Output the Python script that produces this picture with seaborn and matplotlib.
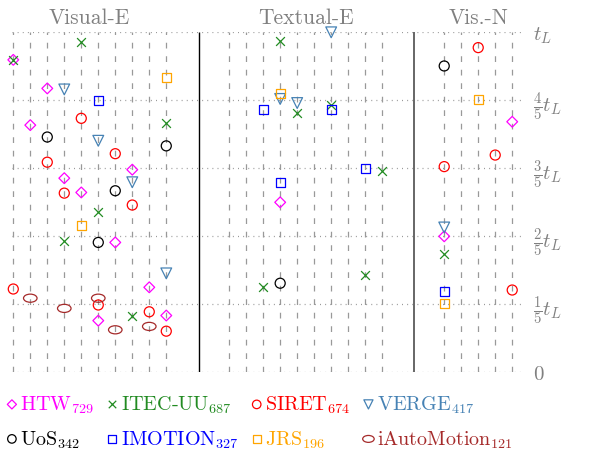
import numpy as np
import seaborn as sns
import matplotlib.pyplot as plt
from matplotlib.path import Path
from matplotlib.transforms import Affine2D
from matplotlib.markers import MarkerStyle

sns.set_style("white")
plt.rcParams['font.family'] = ['cmr10', 'DejaVu Serif']
plt.rcParams['mathtext.fontset'] = 'cm'
plt.rcParams['axes.unicode_minus'] = False

# task index: 0-9 Visual-E, 10-19 Textual-E, 20-24 Vis.-N ; time as fraction of t_L
htw_task = [0, 2, 1, 7, 3, 4, 6, 8, 9, 5, 13, 24, 20]
htw_time = [0.919, 0.835, 0.727, 0.596, 0.571, 0.529, 0.382, 0.25, 0.167, 0.152, 0.5, 0.737, 0.4]

itec_task = [0, 4, 9, 5, 3, 7, 13, 14, 16, 19, 12, 18, 20]
itec_time = [0.919, 0.972, 0.734, 0.471, 0.387, 0.165, 0.975, 0.763, 0.786, 0.591, 0.252, 0.287, 0.347]

siret_task = [4, 6, 2, 3, 7, 0, 5, 8, 9, 22, 23, 20, 24]
siret_time = [0.747, 0.643, 0.618, 0.527, 0.492, 0.245, 0.198, 0.178, 0.121, 0.955, 0.639, 0.605, 0.242]

verge_task = [3, 5, 7, 9, 16, 13, 14, 20]
verge_time = [0.832, 0.681, 0.559, 0.291, 1.0, 0.804, 0.792, 0.426]

uos_task = [2, 9, 6, 5, 13, 20]
uos_time = [0.692, 0.666, 0.534, 0.382, 0.262, 0.901]

imotion_task = [5, 12, 16, 18, 13, 20]
imotion_time = [0.799, 0.772, 0.772, 0.6, 0.559, 0.238]

jrs_task = [9, 4, 13, 22, 20]
jrs_time = [0.868, 0.431, 0.821, 0.801, 0.201]

iauto_task = [1, 5, 3, 8, 6]
iauto_time = [0.218, 0.218, 0.188, 0.135, 0.125]

teams = ["HTW", "ITEC-UU", "SIRET", "VERGE", "UoS", "IMOTION", "JRS", "iAutoMotion"]
scores = [729, 687, 674, 417, 342, 327, 196, 121]
colors = ["#FF00FF", "#228B22", "#FF0000", "#4682B4", "#000000", "#0000FF", "#FFA500", "#A52A2A"]

sections = ["Visual-E", "Textual-E", "Vis.-N"]
section_tasks = [10, 10, 5]
section_offset = [0, 12.7, 25.35]
separators = [10.92, 23.55]

ellipse = Path.unit_circle().transformed(Affine2D().scale(1.0, 0.6))
markers = ["D", "x", "o", "v", "o", "s", "s", MarkerStyle(ellipse)]
sizes = [30, 40, 52, 60, 52, 42, 42, 95]

all_tasks = [htw_task, itec_task, siret_task, verge_task, uos_task, imotion_task, jrs_task, iauto_task]
all_times = [htw_time, itec_time, siret_time, verge_time, uos_time, imotion_time, jrs_time, iauto_time]


def task_x(t):
    t = np.asarray(t)
    sec = np.where(t < 10, 0, np.where(t < 20, 1, 2))
    start = np.array([0, 10, 20])[sec]
    return np.array(section_offset)[sec] + (t - start)


fig = plt.figure(figsize=(5.89, 4.52), dpi=100)
ax = fig.add_axes([0.0211, 0.1741, 0.8673, 0.7522])

# grid
col_x = np.concatenate([section_offset[i] + np.arange(n) for i, n in enumerate(section_tasks)])
ax.vlines(col_x, 0, 1, colors="#999999", linewidth=0.9, linestyles=(0, (4.6, 6.2)), zorder=1)
ax.hlines(np.linspace(0, 1, 6), -0.05, 30, colors="#999999", linewidth=0.9,
          linestyles=(0, (0.8, 3.3)), zorder=1)
ax.vlines(separators[0], 0, 1, colors="black", linewidth=1.0, zorder=1)
ax.vlines(separators[1], 0, 1, colors="#666666", linewidth=1.4, zorder=1)

for name, sc, c, m, s, tk, tm in zip(teams, scores, colors, markers, sizes, all_tasks, all_times):
    if m == "x":
        kw = dict(color=c, linewidth=0.9)
    else:
        kw = dict(color=c, facecolors="none", edgecolor=c, linewidth=0.9)
    sns.scatterplot(x=task_x(tk), y=tm, marker=m, s=s, ax=ax, clip_on=False, zorder=3,
                    label=rf"{name}$_{{{sc}}}$", **kw)

for name, n, off in zip(sections, section_tasks, section_offset):
    ax.text(off + (n - 1) / 2, 1.027, name, transform=ax.get_xaxis_transform(),
            ha="center", va="baseline", fontsize=15.5, color="#808080")

ax.set_xlim(-0.05, 30)
ax.set_ylim(0, 1)
ax.set_xticks([])
ax.yaxis.tick_right()
ax.set_yticks(np.linspace(0, 1, 6))
ax.set_yticklabels(["0", r"$\frac{1}{5}t_L$", r"$\frac{2}{5}t_L$", r"$\frac{3}{5}t_L$",
                    r"$\frac{4}{5}t_L$", r"$t_L$"], fontsize=15, color="#808080")
ax.tick_params(axis="y", length=0, pad=7)
for sp in ax.spines.values():
    sp.set_visible(False)

h, l = ax.get_legend_handles_labels()
ax.get_legend().remove()
order = [0, 4, 1, 5, 2, 6, 3, 7]
leg = fig.legend([h[i] for i in order], [l[i] for i in order], ncol=4, loc="upper left",
                 bbox_to_anchor=(-0.014, 0.158), frameon=False, fontsize=14.5,
                 handlelength=0.6, handletextpad=0.12, columnspacing=0.6,
                 labelspacing=0.65, markerscale=0.85, borderpad=0.2)
for txt, i in zip(leg.get_texts(), order):
    txt.set_color(colors[i])

fig.savefig("out.png", dpi=100)
